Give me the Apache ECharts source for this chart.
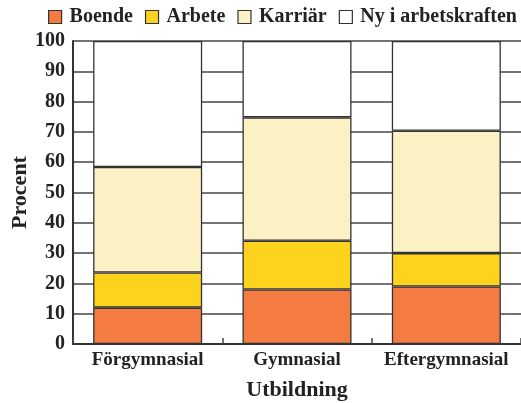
<!DOCTYPE html>
<html>
<head>
<meta charset="utf-8">
<script src="https://cdn.jsdelivr.net/npm/echarts@6/dist/echarts.min.js"></script>
<style>html,body{margin:0;padding:0;background:#fff}#c{width:521px;height:403px}</style>
</head>
<body>
<div id="c"></div>
<script>
const categories = ['Förgymnasial', 'Gymnasial', 'Eftergymnasial'];
const seriesNames = ['Boende', 'Arbete', 'Karriär', 'Ny i arbetskraften'];
const boende = [12, 18, 19];
const arbete = [11.6, 16.1, 11];
const karriar = [34.8, 40.7, 40.4];
const nyIArbetskraften = [41.6, 25.2, 29.6];
const colors = ['#F47B41', '#FDD31E', '#FCF0C5', '#FFFFFF'];
const yTicks = [0, 10, 20, 30, 40, 50, 60, 70, 80, 90, 100];

const FONT = '"Liberation Serif", "DejaVu Serif", serif';
const values = [boende, arbete, karriar, nyIArbetskraften];

const chart = echarts.init(document.getElementById('c'), null, {renderer: 'canvas'});
chart.setOption({
  animation: false,
  backgroundColor: '#fff',
  textStyle: {fontFamily: FONT},
  legend: {
    left: 48, top: 7, padding: 0,
    itemWidth: 13, itemHeight: 13, itemGap: 12,
    icon: 'rect',
    textStyle: {fontFamily: FONT, fontWeight: 'bold', fontSize: 20, color: '#222', padding: [0, 0, 0, 3]},
    data: seriesNames.map(n => ({name: n, itemStyle: {borderColor: '#333', borderWidth: 1.2}}))
  },
  grid: {left: 73, right: 0, top: 41, bottom: 59, outerBoundsMode: 'none', containLabel: false},
  xAxis: {
    type: 'category',
    data: categories,
    name: 'Utbildning',
    nameLocation: 'middle',
    nameGap: 35,
    nameTextStyle: {fontFamily: FONT, fontWeight: 'bold', fontSize: 22, color: '#222'},
    axisLine: {lineStyle: {color: '#333', width: 2}},
    axisTick: {show: true, inside: true, length: 6, lineStyle: {color: '#444', width: 1.5}},
    axisLabel: {interval: 0, fontFamily: FONT, fontWeight: 'bold', fontSize: 19, color: '#222', margin: 7, hideOverlap: false}
  },
  yAxis: {
    type: 'value',
    min: 0, max: 100, interval: 10,
    name: 'Procent',
    nameLocation: 'middle',
    nameGap: 42,
    nameMoveOverlap: false,
    nameTextStyle: {fontFamily: FONT, fontWeight: 'bold', fontSize: 22, color: '#222'},
    axisLine: {show: true, lineStyle: {color: '#333', width: 2}},
    axisTick: {show: false},
    axisLabel: {fontFamily: FONT, fontWeight: 'bold', fontSize: 20, color: '#222', margin: 8,
      formatter: v => yTicks.includes(v) ? String(v) : ''},
    splitLine: {show: true, lineStyle: {color: '#444', width: 1.5}}
  },
  series: seriesNames.map((n, i) => ({
    name: n,
    type: 'bar',
    stack: 'total',
    barWidth: '73%',
    data: values[i],
    itemStyle: {color: colors[i], borderColor: '#333', borderWidth: 1.3}
  }))
});
</script>
</body>
</html>
